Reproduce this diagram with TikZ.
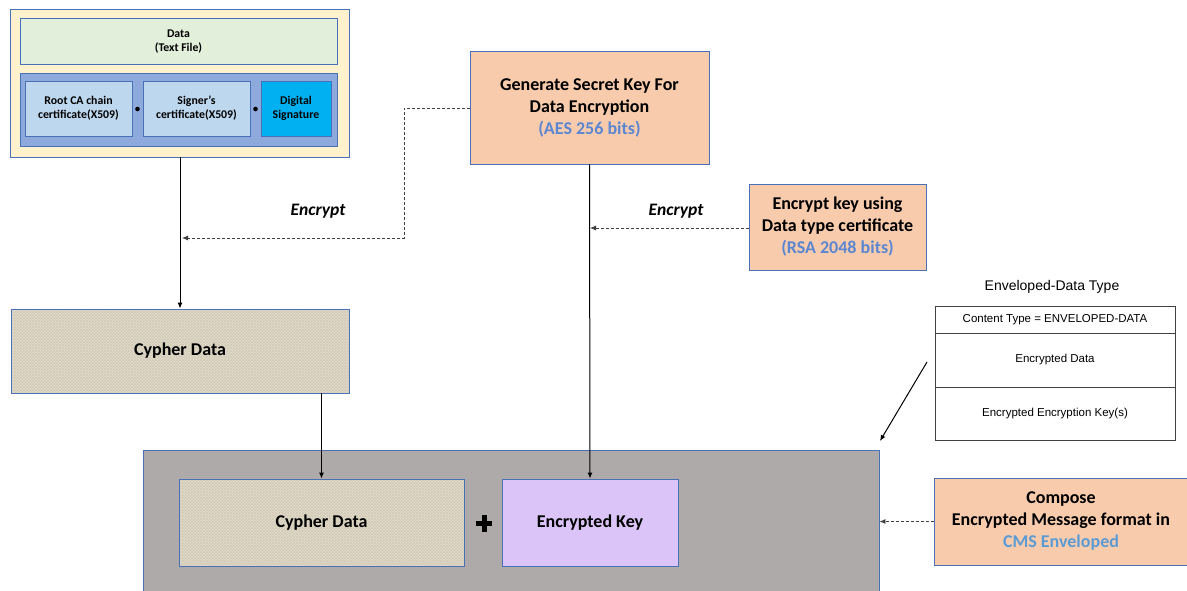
\documentclass[tikz,border=0pt]{standalone}
\usepackage{fontspec}
\setmainfont{Carlito}
\newfontfamily\arialf{Liberation Sans}
\usetikzlibrary{arrows.meta,patterns}
\definecolor{bblue}{HTML}{4A70B8}
\definecolor{cream}{HTML}{FFF2CC}
\definecolor{lgreen}{HTML}{E2EFDA}
\definecolor{midblue}{HTML}{8EA9DB}
\definecolor{paleblue}{HTML}{BDD7EE}
\definecolor{cyanb}{HTML}{00B0F0}
\definecolor{peach}{HTML}{F8CBAD}
\definecolor{linkblue}{HTML}{5A86D2}
\definecolor{cmsblue}{HTML}{5B9BD5}
\definecolor{beige}{HTML}{E2DCCC}
\definecolor{beiged}{HTML}{D2CAB6}
\definecolor{graybox}{HTML}{AEAAAA}
\definecolor{lav}{HTML}{DBC4F8}
\definecolor{dline}{HTML}{404040}
\tikzset{
  bx/.style={draw=bblue, line width=0.9pt, inner sep=0pt, align=center},
  tex/.style={bx, preaction={fill=beige}, pattern=crosshatch, pattern color=beiged},
  small/.style={font=\fontsize{11.8}{14}\selectfont\bfseries},
  big/.style={font=\fontsize{18}{22}\selectfont\bfseries},
  solidarr/.style={draw=black, line width=1pt, -{Latex[length=6pt,width=5pt]}},
  dasharr/.style={draw=dline, line width=0.9pt, dash pattern=on 3pt off 2pt, -{Latex[length=6pt,width=5pt]}},
  tbl/.style={draw=black!75, line width=0.9pt, inner sep=0pt},
  tt/.style={font=\arialf\fontsize{11.5}{13}\selectfont},
  lab/.style={font=\fontsize{17.5}{20}\selectfont\bfseries\itshape}
}
\begin{document}
\begin{tikzpicture}[x=1pt,y=-1pt]
\useasboundingbox (0,0) rectangle (1187,591);
\begin{scope}
\clip (0,0) rectangle (1187,591);
% top left group
\node[bx, fill=cream, minimum width=339pt, minimum height=148pt] (outer) at (179.5,83) {};
\node[bx, fill=lgreen, minimum width=317pt, minimum height=46pt, small] (data) at (178.5,41.5) {Data\\(Text File)};
\node[bx, fill=midblue, minimum width=317pt, minimum height=73pt] (cont) at (178.5,109.5) {};
\node[bx, fill=paleblue, minimum width=107pt, minimum height=55pt, small] (root) at (78.5,108.5) {Root CA chain\\certificate(X509)};
\node[bx, fill=paleblue, minimum width=107pt, minimum height=55pt, small] (signer) at (196.5,108.5) {Signer's\\certificate(X509)};
\node[bx, fill=cyanb, minimum width=70pt, minimum height=55pt, small] (dsig) at (296,108.5) {Digital\\Signature};
\fill (137.5,109) circle (2.3pt) coordinate (dot1);
\fill (255.5,109) circle (2.3pt) coordinate (dot2);
% cypher data 1
\node[tex, minimum width=338pt, minimum height=84pt, big] (cy1) at (180,351) {Cypher Data};
% generate key
\node[bx, fill=peach, minimum width=239pt, minimum height=113pt, big] (gen) at (589.5,107.5) {Generate Secret Key For\\Data Encryption\\\textcolor{linkblue}{(AES 256 bits)}};
% encrypt key using
\node[bx, fill=peach, minimum width=177pt, minimum height=86pt, big] (rsa) at (837.5,227) {Encrypt key using\\Data type certificate\\\textcolor{linkblue}{(RSA 2048 bits)}};
% big gray box
\node[bx, fill=graybox, minimum width=736pt, minimum height=160pt] (env) at (511,530) {};
\node[tex, minimum width=285pt, minimum height=87pt, big] (cy2) at (321.5,522.5) {Cypher Data};
\node[bx, fill=lav, minimum width=176pt, minimum height=87pt, big] (ek) at (590,522.5) {Encrypted Key};
\coordinate (plus) at (484,523);
\draw[line width=5pt] ([xshift=-8pt]plus) -- ([xshift=8pt]plus);
\draw[line width=5pt] ([yshift=-8.5pt]plus) -- ([yshift=8.5pt]plus);
% compose
\node[bx, fill=peach, minimum width=254pt, minimum height=87pt, big] (comp) at (1061,521.5) {Compose\\Encrypted Message format in\\\textcolor{cmsblue}{CMS Enveloped}};
% enveloped table
\node[font=\arialf\fontsize{14}{16}\selectfont] (etitle) at (1052,287) {Enveloped-Data Type};
\node[tbl, minimum width=240pt, minimum height=27pt, tt] (r1) at (1055,319.5) {Content Type = ENVELOPED-DATA};
\node[tbl, minimum width=240pt, minimum height=54pt, tt] (r2) at (1055,360) {Encrypted Data};
\node[tbl, minimum width=240pt, minimum height=53pt, tt] (r3) at (1055,413.5) {Encrypted Encryption Key(s)};
% connectors
\draw[solidarr] (outer.south -| 180,0) -- (cy1.north);
\coordinate (c1) at (404,108);
\coordinate (c2) at (404,238);
\coordinate (c3) at (182,238);
\draw[dasharr] (gen.west |- c1) -- (c1) -- (c2) -- (c3);
\node[lab] (lab1) at (318,211) {Encrypt};
\draw[solidarr] (gen.south) -- (ek.north);
\coordinate (c4) at (590,228);
\draw[dasharr] (rsa.west |- c4) -- (c4);
\node[lab] (lab2) at (676,211) {Encrypt};
\draw[solidarr] (cy1.south -| 321.5,0) -- (cy2.north);
\coordinate (a1) at (927,362);
\coordinate (a2) at (880,441);
\draw[solidarr] (a1) -- (a2);
\draw[dasharr] (comp.west) -- (env.east |- comp.west);
\end{scope}
\end{tikzpicture}
\end{document}
